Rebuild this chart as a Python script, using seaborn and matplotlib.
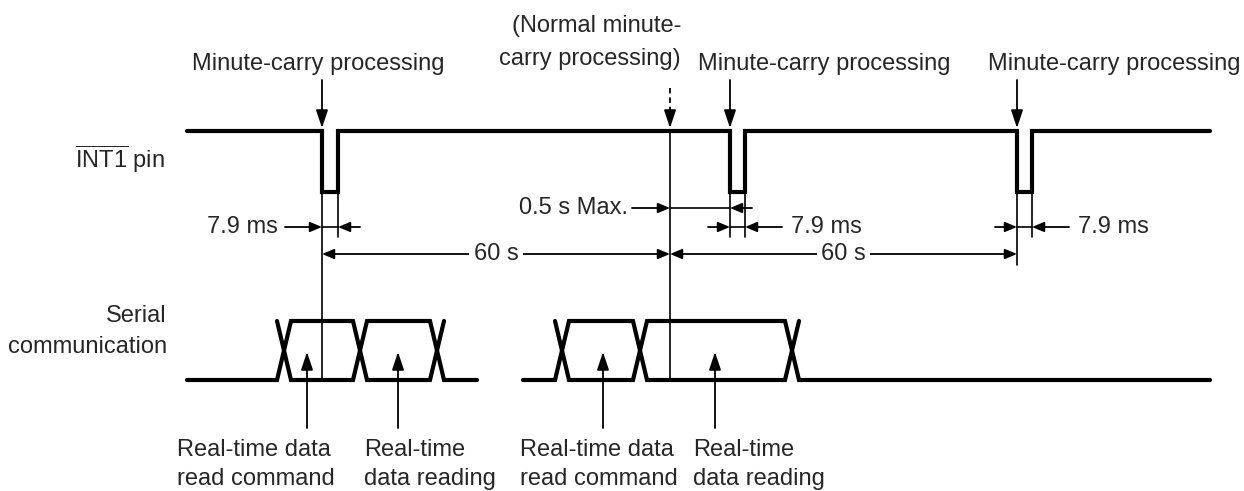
import pandas as pd
import seaborn as sns
import matplotlib.pyplot as plt

# ---- timing data (time axis in diagram units) ----
int1_span = [187, 1210]              # INT1 trace start / end
carry_times = [322, 730, 1017]       # minute-carry processing (INT1 falls)
pulse_widths = [16, 15, 15]          # 7.9 ms low pulses
normal_carry = 670                   # normal minute-carry processing
bus1_span = [187, 477]               # first serial burst, idle start / end
bus1_edges = [277, 353, 430]         # transitions of first burst
bus2_span = [523, 1210]
bus2_edges = [555, 633, 785]
edge_width = 14
read_points1 = [307, 398]            # command / data reading, first burst
read_points2 = [603, 715]            # command / data reading, second burst

carry_label = "Minute-carry processing"
normal_label = "(Normal minute-\ncarry processing)"
pulse_label = "7.9 ms"
period_label = "60 s"
delay_label = "0.5 s Max."
cmd_label = "Real-time data\nread command"
read_label = "Real-time\ndata reading"

# ---- layout (pixels) ----
W, H = 1244, 491
INT_HI, INT_LO = 131, 192
BUS_HI, BUS_LO = 321, 380
Y_DELAY, Y_PULSE, Y_PERIOD = 208, 227, 254
FS = 17

sns.set_style("white")
plt.rcParams['font.family'] = ['Liberation Sans', 'DejaVu Sans']
plt.rcParams['mathtext.fontset'] = 'custom'
plt.rcParams['mathtext.rm'] = 'Liberation Sans'

# build waveform polylines
rows = []
xs, ys = [int1_span[0]], [INT_HI]
for t, w in zip(carry_times, pulse_widths):
    xs += [t, t, t + w, t + w]
    ys += [INT_HI, INT_LO, INT_LO, INT_HI]
xs.append(int1_span[1]); ys.append(INT_HI)
rows += [dict(x=a, y=b, seg="int1") for a, b in zip(xs, ys)]


def bus_paths(span, edges, name):
    # two interleaved polylines make the X-shaped bus transitions
    p1 = [(span[0], BUS_LO)]
    p2 = []
    lvl1, lvl2 = BUS_LO, BUS_HI
    for i, e in enumerate(edges):
        p1.append((e, lvl1)); p2.append((e, lvl2))
        lvl1, lvl2 = lvl2, lvl1
        p1.append((e + edge_width, lvl1)); p2.append((e + edge_width, lvl2))
    p2.append((span[1], BUS_LO)) if lvl2 == BUS_LO else p1.append((span[1], BUS_LO))
    out = [dict(x=a, y=b, seg=name + "a") for a, b in p1]
    out += [dict(x=a, y=b, seg=name + "b") for a, b in p2]
    return out


rows += bus_paths(bus1_span, bus1_edges, "bus1")
rows += bus_paths(bus2_span, bus2_edges, "bus2")
wave = pd.DataFrame(rows)

fig = plt.figure(figsize=(W / 100, H / 100), dpi=100)
ax = fig.add_axes([0, 0, 1, 1])
sns.lineplot(data=wave, x="x", y="y", units="seg", estimator=None, sort=False,
             color="black", lw=3, solid_joinstyle="miter", ax=ax)


def arrow(x0, y0, x1, y1, style="-|>", hl=0.6, hw=0.25, ls="-"):
    ax.annotate("", xy=(x1, y1), xytext=(x0, y0),
                arrowprops=dict(arrowstyle=f"{style},head_length={hl},head_width={hw}",
                                mutation_scale=12, lw=1.3, color="black",
                                shrinkA=0, shrinkB=0, linestyle=ls))


def vline(x, y0, y1):
    ax.plot([x, x], [y0, y1], color="black", lw=1.2)


# guide lines
c, w = carry_times, pulse_widths
vline(c[0], INT_LO, BUS_LO)
vline(c[0] + w[0], INT_LO, 237)
vline(normal_carry, INT_HI, BUS_LO)
vline(c[1], INT_LO, 237)
vline(c[1] + w[1], INT_LO, 237)
vline(c[2], INT_LO, 265)
vline(c[2] + w[2], INT_LO, 237)

# top arrows and labels
for t in carry_times:
    arrow(t, 80, t, INT_HI - 3, hl=0.9, hw=0.3)
ax.plot([normal_carry, normal_carry], [88, 116], color="black", lw=1.3, ls=(0, (3, 2.2)))
arrow(normal_carry, 114, normal_carry, INT_HI - 3, hl=0.9, hw=0.3)
for xc in [318, 824, 1114]:
    ax.text(xc, 70, carry_label, ha="center", va="baseline", fontsize=FS)
ax.text(681, 65, normal_label, ha="right", va="baseline", multialignment="right",
        fontsize=FS, linespacing=1.62)

# 7.9 ms pulse widths
sides = ["left", "right", "right"]
for t, pw, side in zip(carry_times, pulse_widths, sides):
    ext_l, ext_r = (37, 22) if side == "left" else (22, 37)
    arrow(t - ext_l, Y_PULSE, t, Y_PULSE)
    arrow(t + pw + ext_r, Y_PULSE, t + pw, Y_PULSE)
    ax.plot([t, t + pw], [Y_PULSE, Y_PULSE], color="black", lw=1.2)
    if side == "left":
        ax.text(t - ext_l - 7, Y_PULSE, pulse_label, ha="right", va="center", fontsize=FS)
    else:
        ax.text(t + pw + ext_r + 9, Y_PULSE, pulse_label, ha="left", va="center", fontsize=FS)

# 0.5 s max delay
arrow(normal_carry - 38, Y_DELAY, normal_carry, Y_DELAY)
ax.plot([normal_carry, c[1]], [Y_DELAY, Y_DELAY], color="black", lw=1.2)
arrow(c[1] + 22, Y_DELAY, c[1], Y_DELAY)
ax.text(normal_carry - 42, Y_DELAY, delay_label, ha="right", va="center", fontsize=FS)

# 60 s periods
for a, b in [(c[0], normal_carry), (normal_carry, c[2])]:
    arrow(a, Y_PERIOD, b, Y_PERIOD, style="<|-|>")
    ax.text((a + b) / 2, Y_PERIOD, period_label, ha="center", va="center", fontsize=FS,
            bbox=dict(facecolor="white", edgecolor="none", pad=3))

# left row labels
ax.text(165, 168, r"$\overline{\mathrm{INT1}}$ pin", ha="right", va="baseline", fontsize=FS)
ax.text(167, 353, "Serial\ncommunication", ha="right", va="baseline",
        multialignment="right", fontsize=FS, linespacing=1.5)

# bottom arrows and labels
for xp in read_points1 + read_points2:
    arrow(xp, 428, xp, 352, hl=0.9, hw=0.3)
for xl, txt in zip([177, 364, 520, 693], [cmd_label, read_label, cmd_label, read_label]):
    ax.text(xl, 485, txt, ha="left", va="baseline", fontsize=FS, linespacing=1.4)

ax.set_xlim(0, W)
ax.set_ylim(H, 0)
ax.axis("off")
fig.savefig("out.png", dpi=100)
